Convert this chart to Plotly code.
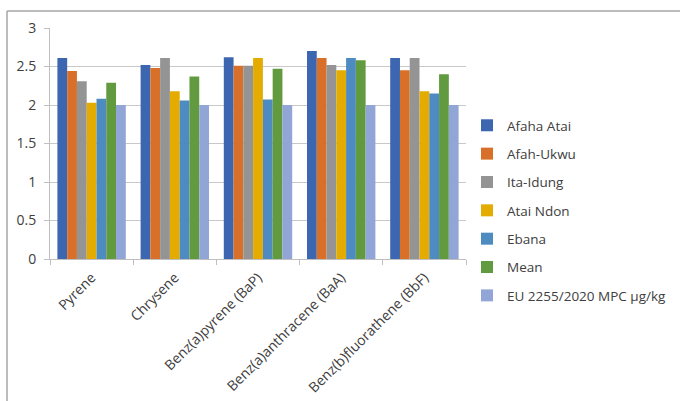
import plotly.graph_objects as go

categories = ["Pyrene", "Chrysene", "Benz(a)pyrene (BaP)", "Benz(a)anthracene (BaA)", "Benz(b)fluorathene (BbF)"]
series_names = ["Afaha Atai", "Afah-Ukwu", "Ita-Idung", "Atai Ndon", "Ebana", "Mean", "EU 2255/2020 MPC µg/kg"]
afaha_atai = [2.61, 2.52, 2.62, 2.70, 2.61]
afah_ukwu = [2.44, 2.48, 2.51, 2.61, 2.45]
ita_idung = [2.31, 2.61, 2.51, 2.52, 2.61]
atai_ndon = [2.03, 2.18, 2.61, 2.45, 2.18]
ebana = [2.08, 2.06, 2.07, 2.61, 2.15]
mean = [2.29, 2.37, 2.47, 2.58, 2.40]
eu_mpc = [2.0, 2.0, 2.0, 2.0, 2.0]
series_values = [afaha_atai, afah_ukwu, ita_idung, atai_ndon, ebana, mean, eu_mpc]
colors = ["#3C66B0", "#D8702A", "#949494", "#E4AB00", "#4D8BC0", "#629B3F", "#91A6D6"]

fig = go.Figure()
for i, (name, vals, c) in enumerate(zip(series_names, series_values, colors)):
    fig.add_trace(go.Bar(x=categories, y=vals, name=name, marker=dict(color=c, line=dict(width=0)),
                         legendgroup=f"g{i}"))

W, H = 680, 401
L, R, T, B = 50, 214, 28, 142
pw, ph = W - L - R, H - T - B

def px(x):
    return (x - L) / pw

def py(y):
    return (H - B - y) / ph

FONT = "Open Sans, Liberation Sans, Arial, sans-serif"
fig.update_layout(
    width=W, height=H,
    margin=dict(l=L, r=R, t=T, b=B, autoexpand=False),
    paper_bgcolor="white", plot_bgcolor="white",
    barmode="group", bargap=0.178, bargroupgap=0,
    font=dict(family=FONT, size=13, color="#404040"),
    showlegend=True,
    legend=dict(x=px(467), y=py(110), xanchor="left", yanchor="top",
                font=dict(family=FONT, size=13.5, color="#404040"), tracegroupgap=7.8,
                itemwidth=30, bgcolor="rgba(0,0,0,0)"),
    xaxis=dict(showgrid=False, showline=True, linecolor="#BFBFBF", linewidth=1,
               ticks="outside", tickson="boundaries", ticklen=5, tickcolor="#BFBFBF",
               tickangle=-45, ticklabelstandoff=4,
               tickfont=dict(family=FONT, size=14, color="#404040")),
    yaxis=dict(range=[0, 3], dtick=0.5, showgrid=True, gridcolor="#C8C8C8", gridwidth=1,
               showline=True, linecolor="#BFBFBF", ticks="outside", ticklen=5,
               tickcolor="#BFBFBF", zeroline=False, ticklabelstandoff=5,
               tickfont=dict(family=FONT, size=14, color="#404040")),
    shapes=[
        dict(type="line", xref="paper", yref="paper", x0=px(7), x1=px(W + 5), y0=py(11), y1=py(11),
             line=dict(color="#A6A6A6", width=1.5)),
        dict(type="line", xref="paper", yref="paper", x0=px(7), x1=px(7), y0=py(11), y1=py(H + 5),
             line=dict(color="#A6A6A6", width=1.5)),
    ],
)
fig.write_html("out.html")
